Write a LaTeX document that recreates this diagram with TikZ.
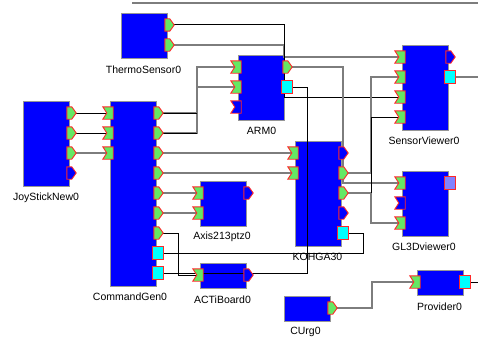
\documentclass[tikz,border=0pt]{standalone}
\usepackage{fontspec}
\setmainfont{Liberation Sans}
\definecolor{boxblue}{RGB}{0,0,255}
\definecolor{portgreen}{RGB}{100,232,100}
\definecolor{portred}{RGB}{255,40,40}
\definecolor{svccyan}{RGB}{0,255,255}
\definecolor{lav}{RGB}{130,130,255}
\definecolor{wiregray}{RGB}{125,125,125}
\definecolor{boxedge}{RGB}{150,150,150}
\tikzset{
  x=1pt, y=-1pt,
  comp/.style={draw=boxedge, line width=1.2pt, fill=boxblue, anchor=north west, inner sep=0pt, minimum width=46pt},
  port/.style={rectangle, draw=none, inner sep=0pt, minimum width=10pt, minimum height=12pt},
  portline/.style={draw=portred, line width=0.9pt, line join=miter},
  lbl/.style={font=\fontsize{10.5}{12}\selectfont, inner sep=0pt, anchor=center},
  wblk/.style={draw=black, line width=1pt},
  wgry/.style={draw=wiregray, line width=1.6pt},
}
\begin{document}
\begin{tikzpicture}
\useasboundingbox (0,0) rectangle (478,337);
% top rule
\coordinate (rule-a) at (132,3);
\coordinate (rule-b) at (478,3);
\draw[draw=wiregray, line width=1.2pt] (rule-a) -- (rule-b);

% components
\node[comp, minimum height=45pt]  (th)   at (121,13)  {};
\node[comp, minimum height=65pt]  (arm)  at (238,55)  {};
\node[comp, minimum height=85pt]  (joy)  at (23,101)  {};
\node[comp, minimum height=185pt] (cg)   at (110,101) {};
\node[comp, minimum height=45pt]  (ax)   at (200,181) {};
\node[comp, minimum height=25pt]  (ac)   at (200,263) {};
\node[comp, minimum height=105pt] (ko)   at (295,141) {};
\node[comp, minimum height=85pt]  (sv)   at (402,45)  {};
\node[comp, minimum height=65pt]  (gl)   at (402,171) {};
\node[comp, minimum height=25pt]  (cu)   at (284,296) {};
\node[comp, minimum height=25pt]  (pr)   at (417,270) {};

% labels
\node[lbl] (th-l)  at (143.5,70)  {ThermoSensor0};
\node[lbl] (arm-l) at (261.5,131) {ARM0};
\node[lbl] (joy-l) at (46,198)    {JoyStickNew0};
\node[lbl] (cg-l)  at (130,297)   {CommandGen0};
\node[lbl] (ax-l)  at (222,237)   {Axis213ptz0};
\node[lbl] (ac-l)  at (222.5,300) {ACTiBoard0};
\node[lbl] (ko-l)  at (317.5,257) {KOHGA30};
\node[lbl] (sv-l)  at (424,141)   {SensorViewer0};
\node[lbl] (gl-l)  at (424,247)   {GL3Dviewer0};
\node[lbl] (cu-l)  at (305.5,332) {CUrg0};
\node[lbl] (pr-l)  at (439.5,307) {Provider0};

% ports (invisible frames, shapes drawn below)
\foreach \n/\px/\py in {th-o1/170/25, th-o2/170/45,
  arm-i1/236/67, arm-i2/236/87, arm-i3/236/107, arm-o1/288/67, arm-s/287/87,
  joy-o1/72/113, joy-o2/72/133, joy-o3/72/153, joy-o4/72/173,
  cg-i1/108/113, cg-i2/108/133, cg-i3/108/153,
  cg-o1/159/113, cg-o2/159/133, cg-o3/159/153, cg-o4/159/173, cg-o5/159/193, cg-o6/159/213, cg-o7/159/233,
  cg-s1/158/253, cg-s2/158/273,
  ax-i1/198/193, ax-i2/198/213, ax-o1/249/193,
  ac-i1/198/275, ac-o1/249/275,
  ko-i1/293/153, ko-i2/293/173, ko-o1/344/153, ko-o2/344/173, ko-o3/344/193, ko-o4/344/213, ko-s/343/233,
  sv-i1/400/57, sv-i2/400/77, sv-i3/400/97, sv-i4/400/117, sv-o1/451/57, sv-s/450/77,
  gl-i1/400/183, gl-i2/400/203, gl-i3/400/223, gl-s/450/183,
  cu-o1/333/308, pr-i1/415/282, pr-s/465/282}
  {\node[port] (\n) at (\px,\py) {};}
\coordinate (sv-end) at (478,77);
\coordinate (pr-end) at (478,282);

% connectors
\draw[wgry] (th-o2.center) -- ++(114,0) |- (sv-i1.center);
\draw[wblk] (th-o1.center) -- ++(114,0) |- (sv-i3.center);
\draw[wblk] (joy-o1.center) -- (cg-i1.center);
\draw[wblk] (joy-o2.center) -- (cg-i2.center);
\draw[wgry] (joy-o3.center) -- (cg-i3.center);
\draw[wgry] (cg-o1.center) -- ++(38,0) |- (arm-i1.center);
\draw[wgry] (cg-o2.center) -- ++(38,0) |- (arm-i2.center);
\draw[wblk] (cg-o1.center) -- ++(38,0);
\draw[wblk] (cg-o2.center) -- ++(38,0);
\draw[wgry] (cg-o3.center) -- (ko-i1.center);
\draw[wgry] (cg-o4.center) -- (ko-i2.center);
\draw[wgry] (cg-o5.center) -- (ax-i1.center);
\draw[wgry] (cg-o6.center) -- (ax-i2.center);
\draw[wblk] (cg-o7.center) -- ++(19,0) |- (ac-i1.center);
\draw[wblk] (cg-s1.center) -- ++(205,0) |- (ko-s.center);
\draw[wblk] (cg-s2.center) -- ++(149,0) |- (arm-s.center);
\draw[wgry] (arm-o1.center) -- ++(55,0) |- (gl-i1.center);
\draw[wgry] (ko-o2.center) -- ++(27,0) |- (sv-i2.center);
\draw[wgry] (ko-o3.center) -- ++(27,0) |- (gl-i3.center);
\draw[wblk] (ko-o3.center) ++(27,0) |- (sv-i4.center);
\draw[wgry] (sv-s.center) -- (sv-end);
\draw[wgry] (cu-o1.center) -- ++(39,0) |- (pr-i1.center);
\draw[wblk] (pr-s.center) -- (pr-end);

% input ports (notched)
\foreach \n/\c in {arm-i1/portgreen, arm-i2/portgreen, arm-i3/boxblue,
  cg-i1/portgreen, cg-i2/portgreen, cg-i3/portgreen,
  ax-i1/portgreen, ax-i2/portgreen, ac-i1/portgreen,
  ko-i1/portgreen, ko-i2/portgreen,
  sv-i1/portgreen, sv-i2/portgreen, sv-i3/portgreen, sv-i4/portgreen,
  gl-i1/portgreen, gl-i2/boxblue, gl-i3/portgreen, pr-i1/portgreen}
  {\filldraw[portline, fill=\c] (\n.north west) -- (\n.north east) -- (\n.south east)
     -- (\n.south west) -- ([xshift=4pt]\n.west) -- cycle;}
% output ports (pointed)
\foreach \n/\c in {th-o1/portgreen, th-o2/portgreen, arm-o1/portgreen,
  joy-o1/portgreen, joy-o2/portgreen, joy-o3/portgreen, joy-o4/boxblue,
  cg-o1/portgreen, cg-o2/portgreen, cg-o3/portgreen, cg-o4/portgreen,
  cg-o5/portgreen, cg-o6/portgreen, cg-o7/portgreen,
  ax-o1/boxblue, ac-o1/boxblue,
  ko-o1/boxblue, ko-o2/portgreen, ko-o3/portgreen, ko-o4/boxblue,
  sv-o1/boxblue, cu-o1/portgreen}
  {\filldraw[portline, fill=\c] (\n.north west) -- ([xshift=5pt]\n.north west)
     -- ([xshift=-1pt]\n.east) -- ([xshift=5pt]\n.south west) -- (\n.south west) -- cycle;}
% service ports (square)
\foreach \n/\c in {arm-s/svccyan, cg-s1/svccyan, cg-s2/svccyan, ko-s/svccyan,
  sv-s/svccyan, gl-s/lav, pr-s/svccyan}
  {\filldraw[portline, fill=\c] (\n.north west) rectangle (\n.south east);}
\end{tikzpicture}
\end{document}
